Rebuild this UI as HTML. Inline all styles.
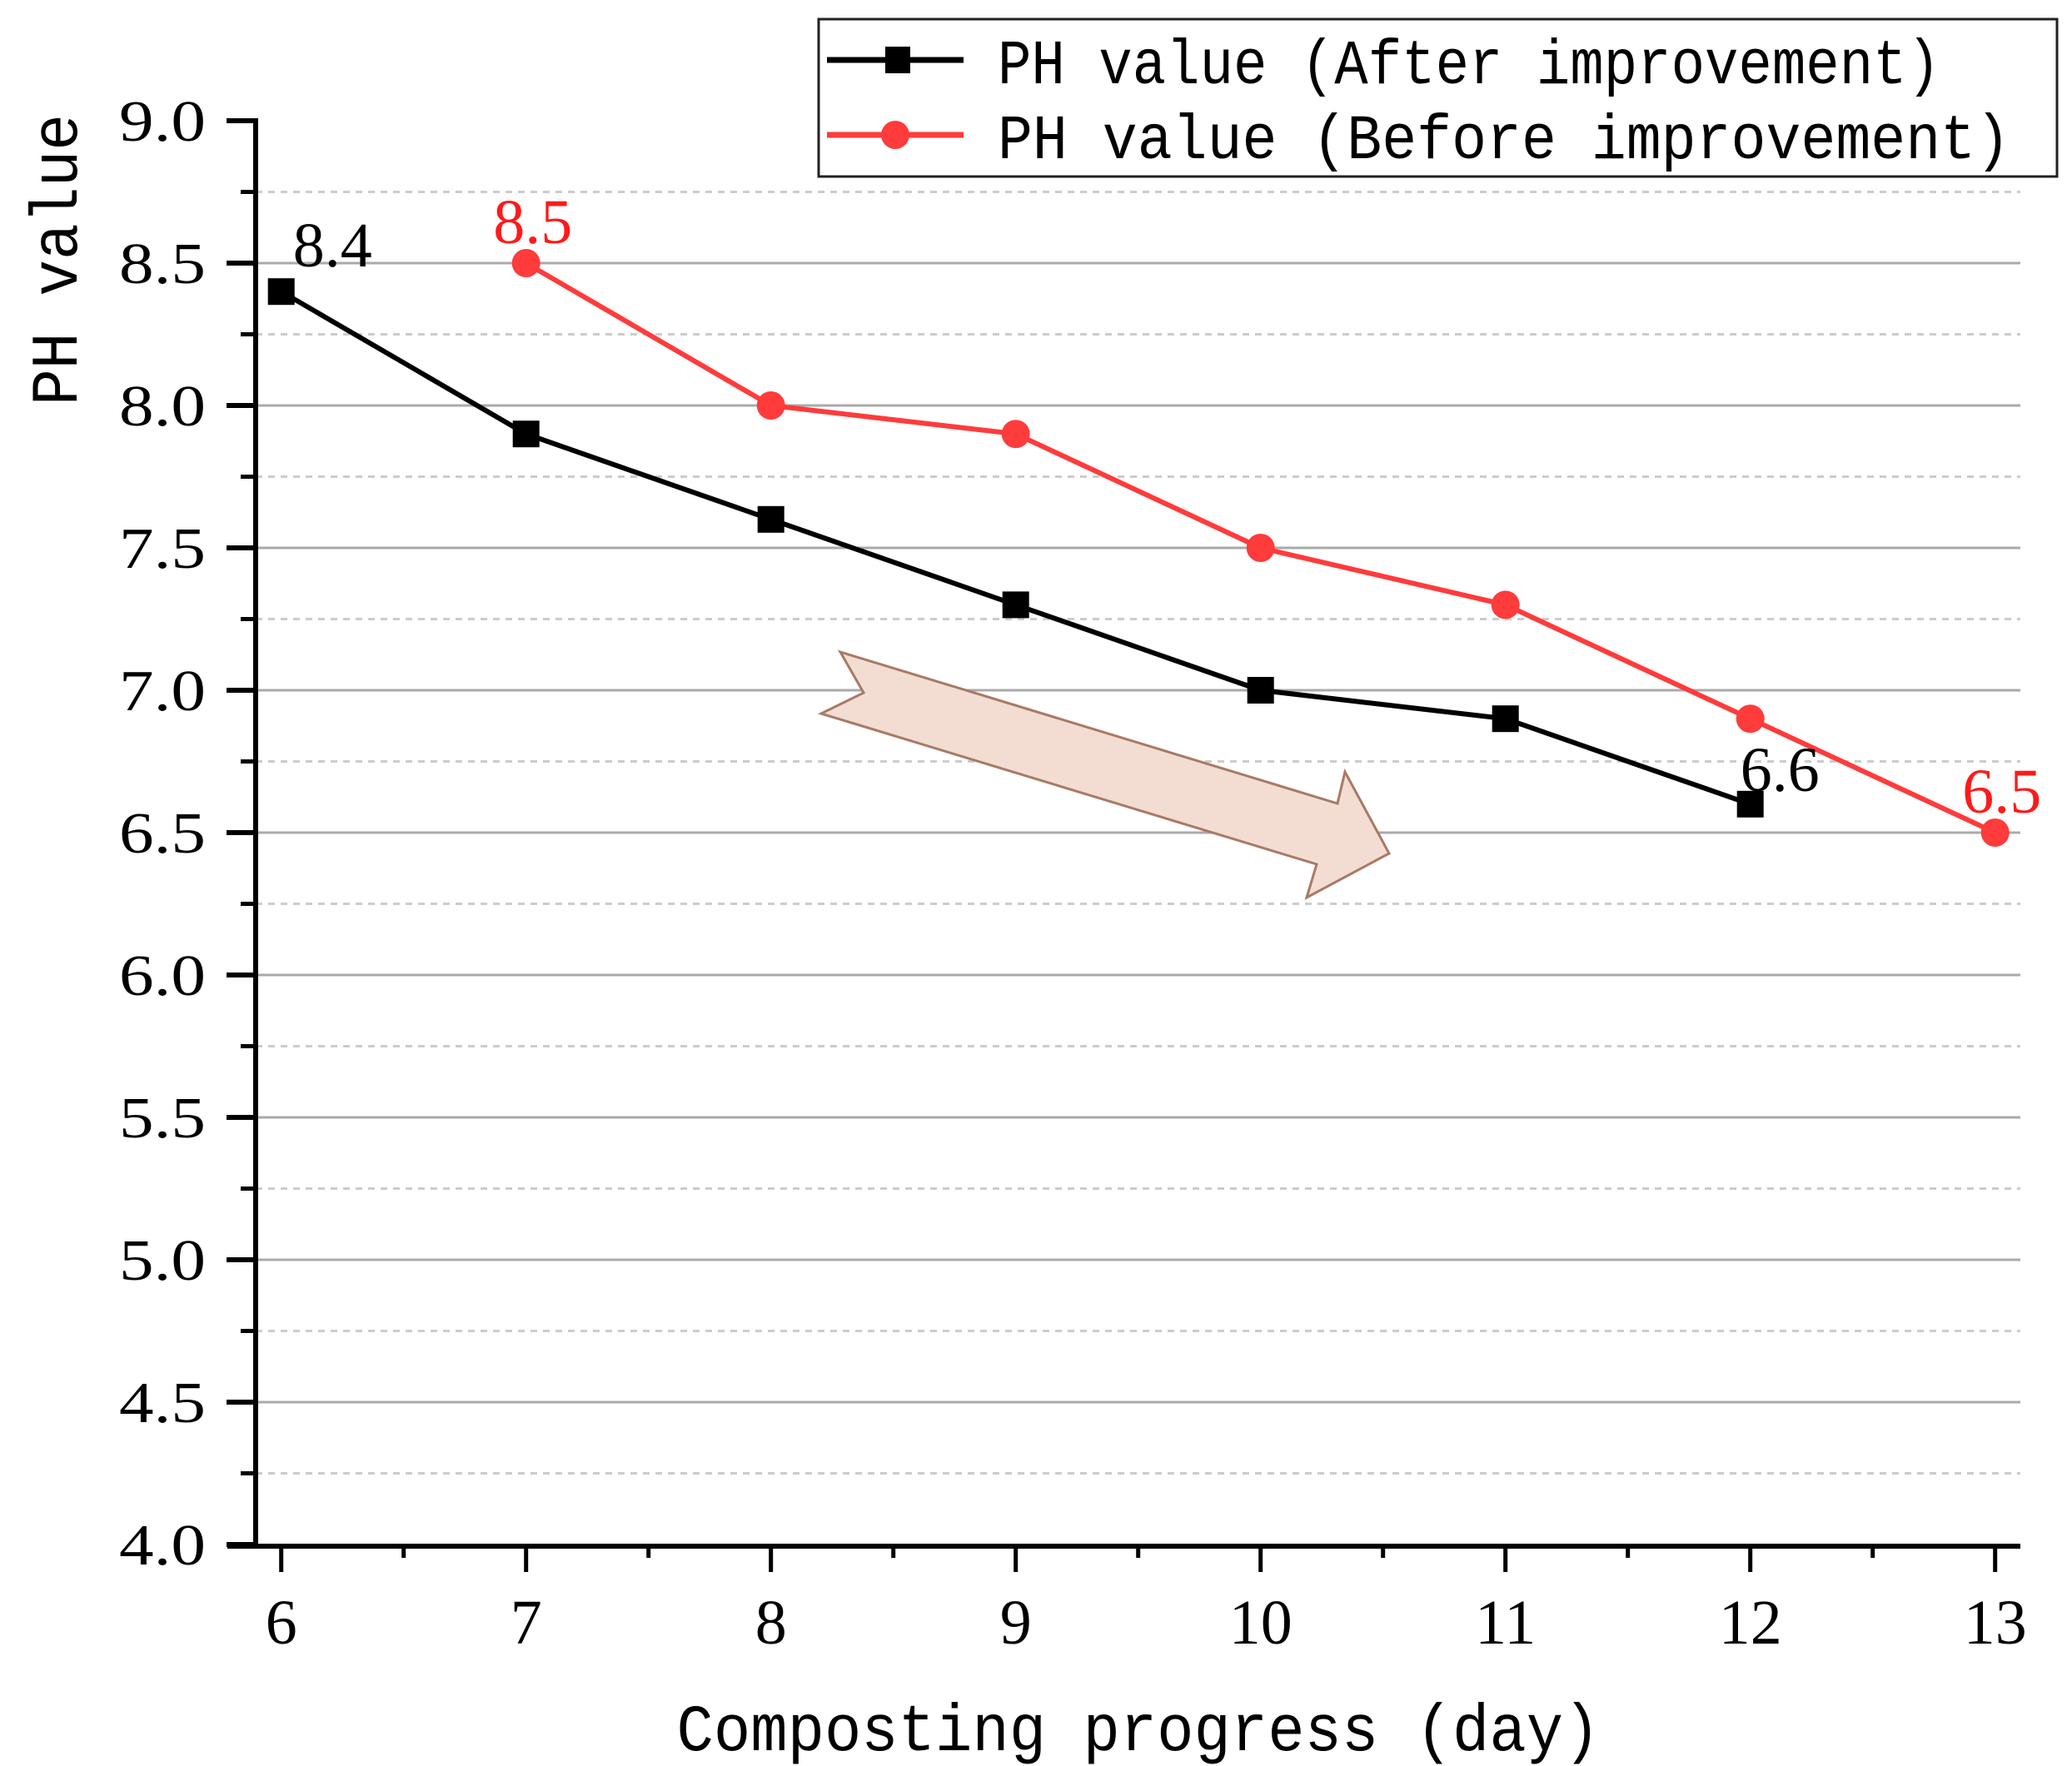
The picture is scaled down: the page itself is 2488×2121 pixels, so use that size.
<!DOCTYPE html>
<html><head><meta charset="utf-8"><style>
html,body{margin:0;padding:0;background:#fff;}
svg{display:block;}
</style></head><body>
<svg id="chart" width="2488" height="2121" viewBox="0 0 2488 2121" xmlns="http://www.w3.org/2000/svg">
<g id="grid"></g>
<g id="axes"></g>
<polygon points="1009,783 1037,832 986,857 1581,1038 1569,1078 1668,1025 1615,927 1606,965" fill="#f3ddd2" stroke="#a87a66" stroke-width="3"/>
<g id="series"></g>
<g>
<rect x="983" y="23" width="1487" height="189" fill="#fff" stroke="#222" stroke-width="3"/>
<line x1="993" y1="72" x2="1157" y2="72" stroke="#000" stroke-width="7"/>
<rect x="1063" y="56" width="30" height="32" fill="#000"/>
<text x="1198" y="100" font-family="Liberation Mono, monospace" font-size="76" textLength="1132" lengthAdjust="spacingAndGlyphs">PH value (After improvement)</text>
<line x1="993" y1="162" x2="1157" y2="162" stroke="#ff3b3b" stroke-width="7"/>
<circle cx="1075" cy="162" r="17" fill="#ff3b3b"/>
<text x="1198" y="190" font-family="Liberation Mono, monospace" font-size="76" textLength="1216" lengthAdjust="spacingAndGlyphs">PH value  (Before improvement)</text>
</g>
<text transform="translate(92,312) rotate(-90)" text-anchor="middle" font-family="Liberation Mono, monospace" font-size="80" textLength="350" lengthAdjust="spacingAndGlyphs">PH value</text>
<text x="1367" y="2102" text-anchor="middle" font-family="Liberation Mono, monospace" font-size="80" textLength="1109" lengthAdjust="spacingAndGlyphs">Composting progress (day)</text>
</svg>
<script>
const days=[6,7,8,9,10,11,12,13];
const afterDays=[6,7,8,9,10,11,12];
const afterVals=[8.4,7.9,7.6,7.3,7.0,6.9,6.6];
const beforeDays=[7,8,9,10,11,12,13];
const beforeVals=[8.5,8.0,7.9,7.5,7.3,6.9,6.5];
const yTicks=[4.0,4.5,5.0,5.5,6.0,6.5,7.0,7.5,8.0,8.5,9.0];
const yTickLabels=["4.0","4.5","5.0","5.5","6.0","6.5","7.0","7.5","8.0","8.5","9.0"];
const afterLabels=[{i:0,t:"8.4"},{i:6,t:"6.6"}];
const beforeLabels=[{i:0,t:"8.5"},{i:6,t:"6.5"}];

const NS="http://www.w3.org/2000/svg";
const X=d=>337.7+(d-6)*294;
const Y=v=>145+(9-v)*342;
const AX=307, AY=1857, RIGHT=2426;
function mk(tag,attrs,parent){const e=document.createElementNS(NS,tag);for(const k in attrs)e.setAttribute(k,attrs[k]);parent.appendChild(e);return e;}
const grid=document.getElementById('grid'),axes=document.getElementById('axes'),series=document.getElementById('series');
for(let k=0;k<yTicks.length-1;k++){
  const v=yTicks[k];
  if(k>0){const g=mk('line',{x1:AX,x2:RIGHT,y1:Y(v),y2:Y(v),stroke:'#aaa','stroke-width':3},grid);
  
  }
  const m=v+0.25;
  const d=mk('line',{x1:AX,x2:RIGHT,y1:Y(m),y2:Y(m),stroke:'#ccc','stroke-width':3,'stroke-dasharray':'8 7'},grid);
  
  
}
mk('line',{x1:AX,x2:AX,y1:142,y2:AY+3,stroke:'#000','stroke-width':6},axes);
mk('line',{x1:273,x2:RIGHT,y1:AY,y2:AY,stroke:'#000','stroke-width':6},axes);
yTicks.forEach((v,k)=>{
  mk('line',{x1:272,x2:AX,y1:Y(v),y2:Y(v),stroke:'#000','stroke-width':6},axes);
  if(k<yTicks.length-1) mk('line',{x1:289,x2:AX,y1:Y(v+0.25),y2:Y(v+0.25),stroke:'#000','stroke-width':5},axes);
  const t=mk('text',{x:247,y:Y(v)+24,'text-anchor':'end','font-family':'Liberation Serif, serif','font-size':70,textLength:104,lengthAdjust:'spacingAndGlyphs'},axes);
  t.textContent=yTickLabels[k];
  
  
});
days.forEach((d,k)=>{
  mk('line',{x1:X(d),x2:X(d),y1:AY,y2:1888,stroke:'#000','stroke-width':5},axes);
  if(k<days.length-1) mk('line',{x1:X(d+0.5),x2:X(d+0.5),y1:AY,y2:1871,stroke:'#000','stroke-width':5},axes);
  const t=mk('text',{x:X(d),y:1974,'text-anchor':'middle','font-family':'Liberation Serif, serif','font-size':76},axes);
  t.textContent=String(d);
  
  
});
function drawSeries(ds,vs,color,marker,name){
  const pts=ds.map((d,i)=>X(d)+','+Y(vs[i])).join(' ');
  const pl=mk('polyline',{points:pts,fill:'none',stroke:color,'stroke-width':6},series);
  
  
  ds.forEach((d,i)=>{
    let m;
    if(marker==='square') m=mk('rect',{x:X(d)-16,y:Y(vs[i])-16,width:32,height:32,fill:color},series);
    else m=mk('circle',{cx:X(d),cy:Y(vs[i]),r:17,fill:color},series);
    
    
  });
}
drawSeries(afterDays,afterVals,'#000','square','after-improvement');
drawSeries(beforeDays,beforeVals,'#ff3b3b','circle','before-improvement');
afterLabels.forEach((l,j)=>{
  const dx=j===0?14:-12, dy=j===0?-30:-16;
  const t=mk('text',{x:X(afterDays[l.i])+dx,y:Y(afterVals[l.i])+dy,'font-family':'Liberation Serif, serif','font-size':76,fill:'#000'},series);
  t.textContent=l.t;
  
  
});
beforeLabels.forEach(l=>{
  const t=mk('text',{x:X(beforeDays[l.i])+8,y:Y(beforeVals[l.i])-24,'text-anchor':'middle','font-family':'Liberation Serif, serif','font-size':76,fill:'#ff1a1a'},series);
  t.textContent=l.t;
  
  
});
</script>
</body></html>
